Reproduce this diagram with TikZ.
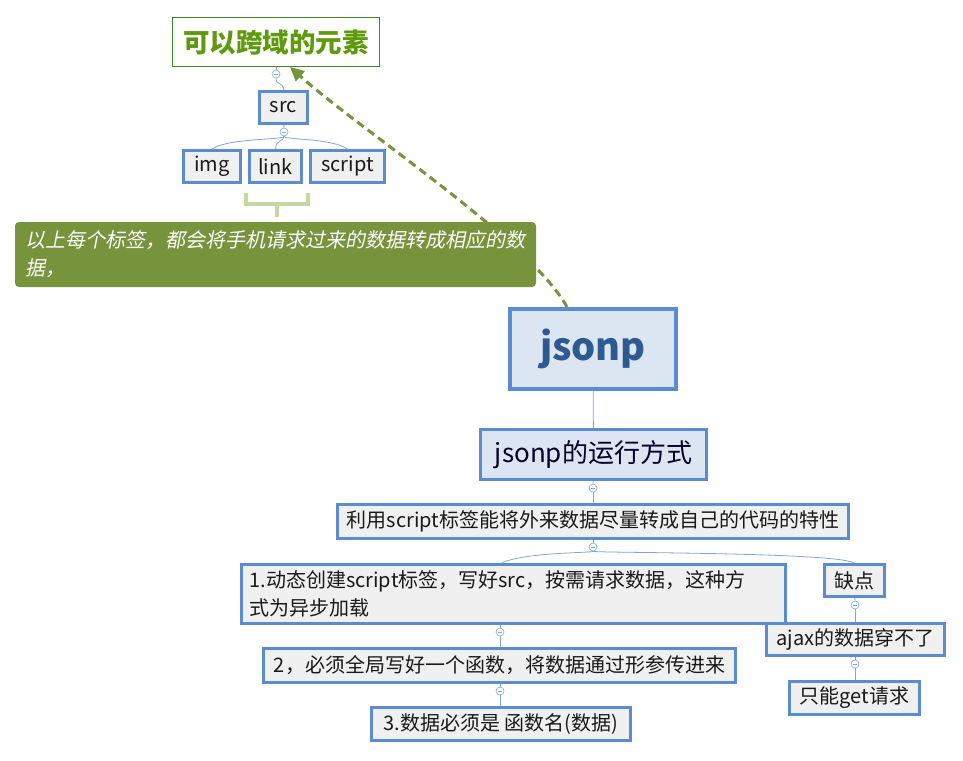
\documentclass[tikz,border=0pt]{standalone}
\usepackage{fontspec}
\setmainfont{Noto Sans CJK SC}
\newfontfamily\notefont[FakeSlant=0.2]{Noto Sans CJK SC}
\usetikzlibrary{arrows.meta,positioning,calc}
\definecolor{box-draw}{HTML}{5B8BD0}
\definecolor{box-fill}{HTML}{F0F0F0}
\definecolor{main-fill}{HTML}{DCE6F2}
\definecolor{main-text}{HTML}{2F5A8F}
\definecolor{link-line}{HTML}{7EA6DC}
\definecolor{olive}{HTML}{77933C}
\definecolor{title-draw}{HTML}{3A8A1A}
\definecolor{title-text}{HTML}{5E9A0C}
\definecolor{brace-green}{HTML}{C4D9A0}

\begin{document}
\begin{tikzpicture}[x=1pt,y=-1pt,
 leaf/.style={draw=box-draw, line width=3pt, fill=box-fill, inner sep=0pt, text=black!90, font=\fontsize{20}{28}\selectfont},
 title/.style={draw=title-draw, line width=0.8pt, fill=white, inner sep=0pt, text=title-text, font=\fontsize{26.5}{30}\selectfont\bfseries},
 root/.style={draw=box-draw, line width=4pt, fill=main-fill, inner sep=0pt, text=main-text, font=\fontsize{38}{44}\selectfont\bfseries},
 branch/.style={draw=box-draw, line width=2.5pt, fill=main-fill, inner sep=0pt, text=black!85!blue, font=\fontsize{26}{30}\selectfont},
 note/.style={fill=olive, rounded corners=4pt, inner sep=0pt, text=white, align=left, font=\notefont\fontsize{20}{28}\selectfont},
 fold/.style={circle, draw=link-line, fill=white, line width=0.6pt, minimum size=8pt, inner sep=0pt,
   path picture={\draw[link-line, line width=0.6pt] ([xshift=2pt]path picture bounding box.west) -- ([xshift=-2pt]path picture bounding box.east);}},
 link/.style={link-line, line width=0.8pt},
 jump/.style={olive, line width=3pt, dash pattern=on 8pt off 5pt, -{Triangle[length=14pt,width=13pt]}},
 brace/.style={brace-green, line width=4pt},
]
 \useasboundingbox (0,0) rectangle (963,760);
 %
 \node[title, minimum width=207, minimum height=49] (top) at (276,42) {可以跨域的元素};
 \node[leaf, minimum width=48, minimum height=32] (src) at (283.5,107.5) {src};
 \node[leaf, minimum width=57, minimum height=32] (img) at (212,166.5) {img};
 \node[leaf, minimum width=52, minimum height=32] (lnk) at (275.5,166.5) {link};
 \node[leaf, minimum width=74, minimum height=32] (scr) at (347.5,166.5) {script};
 \node[fold] (f0) at (276,74) {};
 \node[fold] (f1) at (284,132) {};
 \draw[link] (top) -- (f0);
 \draw[link] (f0.south) .. controls +(0,7) and +(0,-8) .. (src.north);
 \draw[link] (src) -- (f1);
 \draw[link] (f1.south) .. controls (284,140) and (228,138) .. (img.north);
 \draw[link] (f1.south) .. controls (284,142) and (276,139) .. (lnk.north);
 \draw[link] (f1.south) .. controls (284,140) and (332,138) .. (scr.north);
 %
 \coordinate (bl) at (246,193);
 \coordinate (br) at (308,193);
 \coordinate (bm) at (277,204);
 \coordinate (bt) at (277,217);
 \draw[brace] (bl) |- (bm) -| (br);
 \draw[brace] (bm) -- (bt);
 %
 \node[root, minimum width=166, minimum height=80] (jsonp) at (593,349) {jsonp};
 \draw[jump] ([xshift=-26pt]jsonp.north) .. controls (530,240) and (360,130) .. ([xshift=14pt]top.south);
 \node[note, minimum width=521, minimum height=65] (tip) at (275.5,254.5)
   {以上每个标签，都会将手机请求过来的数据转成相应的数\\据，};
 %
 \node[branch, minimum width=226, minimum height=50] (way) at (593.5,454.5) {jsonp的运行方式};
 \node[leaf, minimum width=511, minimum height=34] (use) at (593,521.5) {利用script标签能将外来数据尽量转成自己的代码的特性};
 \node[leaf, minimum width=544, minimum height=59, text width=528, align=left] (s1) at (513.5,594)
   {1.动态创建script标签，写好src，按需请求数据，这种方\\式为异步加载};
 \node[leaf, minimum width=472, minimum height=34] (s2) at (499.5,665.5) {2，必须全局写好一个函数，将数据通过形参传进来};
 \node[leaf, minimum width=259, minimum height=33] (s3) at (501,724) {3.数据必须是 函数名(数据)};
 \node[leaf, minimum width=60, minimum height=32] (bad) at (854.5,580.5) {缺点};
 \node[leaf, minimum width=178, minimum height=32] (ajax) at (855.5,639.5) {ajax的数据穿不了};
 \node[leaf, minimum width=130, minimum height=33] (get) at (854.5,698) {只能get请求};
 %
 \node[fold] (f2) at (593,488) {};
 \node[fold] (f3) at (593,547) {};
 \node[fold] (f4) at (500,632) {};
 \node[fold] (f5) at (500,691) {};
 \node[fold] (f6) at (855,605) {};
 \node[fold] (f7) at (855,664) {};
 \draw[link] (jsonp) -- (way);
 \draw[link] (way) -- (f2);
 \draw[link] (f2) -- (use);
 \draw[link] (use) -- (f3);
 \draw[link] (f3.south) .. controls (593,553) and (525,552) .. ([xshift=-12pt]s1.north);
 \draw[link] (f3.south) .. controls (593,553) and (835,552) .. (bad.north);
 \draw[link] (f4 |- s1.south) -- (f4);
 \draw[link] (f4) -- (f4 |- s2.north);
 \draw[link] (f5 |- s2.south) -- (f5);
 \draw[link] (f5) -- (f5 |- s3.north);
 \draw[link] (bad) -- (f6);
 \draw[link] (f6) -- (f6 |- ajax.north);
 \draw[link] (f7 |- ajax.south) -- (f7);
 \draw[link] (f7) -- (f7 |- get.north);
\end{tikzpicture}
\end{document}
